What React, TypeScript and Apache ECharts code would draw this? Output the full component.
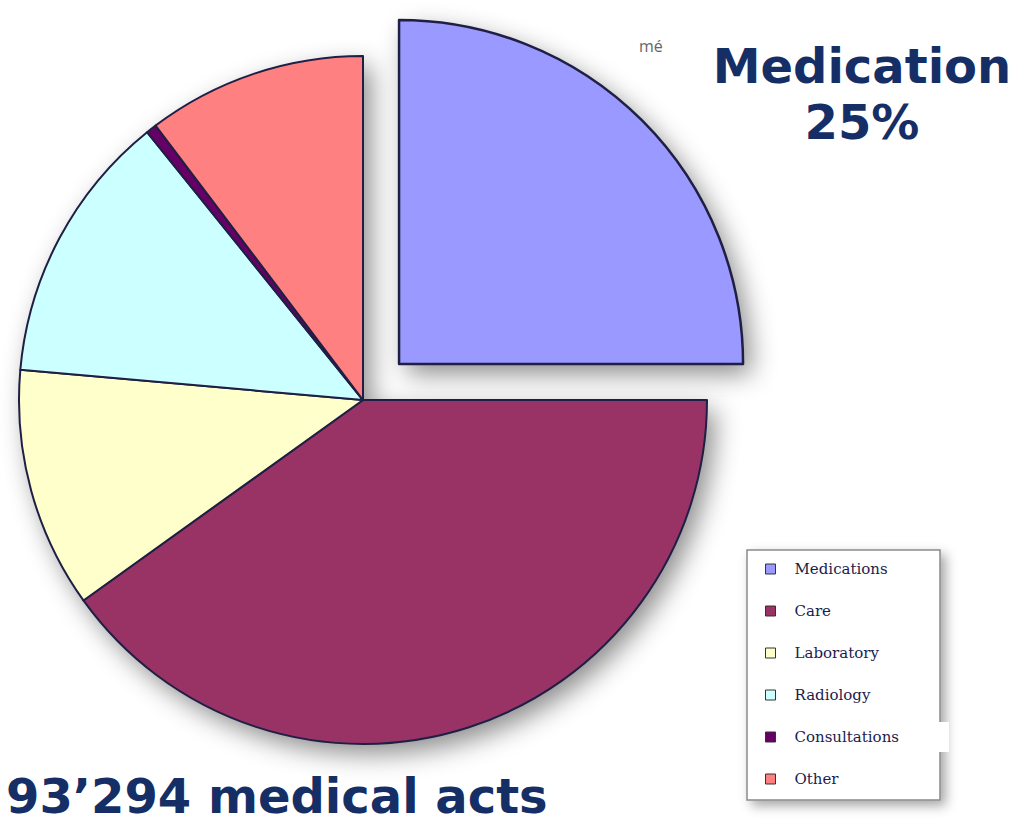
import React, { useEffect, useRef } from "react";
import * as echarts from "echarts";

const categories = ["Medications", "Care", "Laboratory", "Radiology", "Consultations", "Other"];
const shares = [25, 40.1, 11.3, 12.8, 0.5, 10.3];
const colors = ["#9999FF", "#993366", "#FFFFCC", "#CCFFFF", "#660066", "#FF8080"];
const highlightTitle = "Medication";
const highlightValue = "25%";
const totalLabel = "93’294 medical acts";

export default function App() {
  const ref = useRef<HTMLDivElement>(null);
  useEffect(() => {
    document.body.style.margin = "0";
    const chart = echarts.init(ref.current!, null, { renderer: "svg" });
    const center = [363, 400];
    const radius = 344;
    const rest = shares.slice(1).reduce((a, b) => a + b, 0);
    chart.setOption({
      animation: false,
      backgroundColor: "#ffffff",
      legend: {
        orient: "vertical",
        left: 765,
        top: 560,
        padding: 0,
        itemWidth: 10,
        itemHeight: 10,
        itemGap: 24,
        icon: "rect",
        z: 10,
        data: categories,
        selectedMode: false,
        itemStyle: { borderColor: "#333", borderWidth: 1 },
        textStyle: {
          fontFamily: "DejaVu Serif",
          fontSize: 15,
          lineHeight: 18,
          color: "#1c1c4c",
          padding: [0, 0, 0, 14],
        },
      },
      graphic: [
        {
          type: "rect",
          z: 1,
          shape: { x: 747, y: 550, width: 193, height: 250 },
          style: {
            fill: "#ffffff",
            stroke: "#8a8a8a",
            lineWidth: 1.5,
            shadowBlur: 12,
            shadowOffsetX: 5,
            shadowOffsetY: 5,
            shadowColor: "rgba(0,0,0,0.35)",
          },
        },
        {
          type: "rect",
          z: 2,
          shape: { x: 925, y: 722, width: 24, height: 30 },
          style: { fill: "#ffffff" },
        },
        {
          type: "text",
          z: 5,
          x: 639,
          y: 38,
          style: { text: "mé", font: "16px 'Open Sans'", fill: "#666" },
        },
        {
          type: "text",
          z: 5,
          x: 862,
          y: 90,
          style: {
            text: highlightTitle,
            font: "bold 48px 'DejaVu Sans'",
            fill: "#152f66",
            textAlign: "center",
            textVerticalAlign: "bottom",
          },
        },
        {
          type: "text",
          z: 5,
          x: 862,
          y: 146,
          style: {
            text: highlightValue,
            font: "bold 48px 'DejaVu Sans'",
            fill: "#152f66",
            textAlign: "center",
            textVerticalAlign: "bottom",
          },
        },
        {
          type: "text",
          z: 5,
          x: 6,
          y: 796,
          style: {
            text: totalLabel,
            font: "bold 48px 'DejaVu Sans'",
            fill: "#152f66",
            textAlign: "left",
            textVerticalAlign: "middle",
          },
        },
      ],
      series: [
        {
          type: "pie",
          name: "shadow",
          z: 1,
          silent: true,
          center,
          radius,
          startAngle: 90,
          selectedMode: "single",
          selectedOffset: 51,
          label: { show: false },
          labelLine: { show: false },
          emphasis: { disabled: true },
          legendHoverLink: false,
          itemStyle: {
            color: "#ffffff",
            shadowBlur: 26,
            shadowOffsetX: 8,
            shadowOffsetY: 10,
            shadowColor: "rgba(0,0,0,0.45)",
          },
          data: [
            { name: "bgA", value: shares[0], selected: true },
            { name: "bgB", value: rest },
          ],
        },
        {
          type: "pie",
          name: "Medical acts",
          z: 3,
          center,
          radius,
          startAngle: 90,
          selectedMode: "single",
          selectedOffset: 51,
          label: { show: false },
          labelLine: { show: false },
          emphasis: { disabled: true },
          select: { itemStyle: { borderColor: "#1f1f45", borderWidth: 2.5 } },
          itemStyle: { borderColor: "#1f1f45", borderWidth: 2 },
          data: categories.map((c, i) => ({
            name: c,
            value: shares[i],
            selected: i === 0,
            itemStyle: { color: colors[i] },
          })),
        },
      ],
    });
    return () => chart.dispose();
  }, []);
  return <div ref={ref} style={{ width: 1027, height: 827 }} />;
}
